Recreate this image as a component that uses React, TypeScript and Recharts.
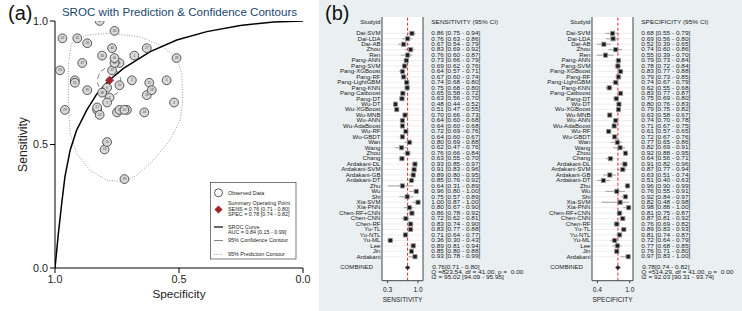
import React from 'react';
import { ComposedChart, Scatter, Line, XAxis, YAxis, ReferenceLine, ErrorBar, CartesianGrid } from 'recharts';

const FONT = '"Liberation Sans", Arial, Helvetica, sans-serif';

// ---------- data ----------
const studyNames = ['Dai-SVM','Dai-LDA','Dai-AB','Zhou','Ren','Pang-ANN','Pang-SVM','Pang-XGBoost','Pang-RF','Pang-LightGBM','Pang-KNN','Pang-Catboost','Pang-DT','Wu-DT','Wu-XGBoost','Wu-MNB','Wu-ANN','Wu-AdaBoost','Wu-RF','Wu-GBDT','Wan','Wang','Zhou','Chang','Ardakani-DL','Ardakani-SVM','Ardakani-GB','Ardakani-DT','Zhu','Wu','Shi','Xia-SVM','Xia-PNN','Chen-RF+CNN','Chen-CNN','Chen-RF','Yu-TL','Yu-NTL','Yu-ML','Lee','Jin','Ardakani'];

const sensEst = [0.86,0.76,0.67,0.83,0.76,0.73,0.69,0.64,0.67,0.74,0.75,0.65,0.63,0.48,0.51,0.70,0.64,0.64,0.72,0.64,0.80,0.62,0.76,0.63,0.93,0.91,0.89,0.85,0.64,0.96,0.75,1.00,0.80,0.86,0.72,0.83,0.83,0.71,0.36,0.89,0.85,0.93];
const sensLo = [0.75,0.63,0.54,0.69,0.60,0.66,0.62,0.57,0.60,0.68,0.68,0.58,0.56,0.44,0.47,0.66,0.60,0.60,0.69,0.60,0.69,0.47,0.66,0.55,0.85,0.83,0.80,0.76,0.31,0.80,0.57,0.87,0.67,0.78,0.62,0.74,0.77,0.64,0.30,0.81,0.80,0.78];
const sensHi = [0.94,0.86,0.79,0.92,0.87,0.79,0.76,0.71,0.74,0.80,0.80,0.72,0.70,0.52,0.55,0.73,0.68,0.68,0.76,0.67,0.88,0.76,0.84,0.70,0.97,0.96,0.95,0.92,0.89,1.00,0.89,1.00,0.90,0.92,0.81,0.90,0.88,0.77,0.43,0.94,0.88,0.99];

const specEst = [0.68,0.69,0.52,0.74,0.55,0.79,0.78,0.83,0.79,0.74,0.62,0.83,0.75,0.80,0.79,0.63,0.74,0.71,0.61,0.72,0.77,0.82,0.92,0.64,0.91,0.87,0.63,0.51,0.96,0.76,0.92,0.82,0.98,0.81,0.87,0.76,0.89,0.81,0.72,0.77,0.76,0.97];
const specLo = [0.55,0.56,0.39,0.60,0.39,0.73,0.72,0.77,0.73,0.67,0.55,0.77,0.69,0.76,0.75,0.58,0.70,0.67,0.57,0.67,0.65,0.69,0.88,0.56,0.82,0.77,0.51,0.40,0.90,0.55,0.84,0.48,0.88,0.75,0.81,0.69,0.83,0.74,0.64,0.68,0.71,0.83];
const specHi = [0.79,0.80,0.65,0.86,0.70,0.84,0.84,0.88,0.85,0.79,0.68,0.87,0.80,0.83,0.82,0.67,0.78,0.75,0.65,0.76,0.86,0.91,0.95,0.71,0.96,0.94,0.74,0.63,0.99,0.91,0.97,0.98,1.00,0.87,0.92,0.82,0.93,0.87,0.79,0.85,0.80,1.00];

const combinedSens = { est: 0.76, lo: 0.71, hi: 0.80, q: 'Q =823.54, df = 41.00, p =  0.00', i2: 'I2 = 95.02 [94.09 - 95.95]' };
const combinedSpec = { est: 0.78, lo: 0.74, hi: 0.82, q: 'Q =514.29, df = 41.00, p =  0.00', i2: 'I2 = 92.03 [90.31 - 93.74]' };

// SROC curve (specificity, sensitivity)
const srocSpec = [1.0, 0.9865, 0.973, 0.96, 0.939, 0.913, 0.872, 0.832, 0.785, 0.724, 0.616, 0.509, 0.388, 0.253, 0.118, 0.0];
const srocSens = [0.0, 0.139, 0.261, 0.369, 0.477, 0.558, 0.639, 0.704, 0.757, 0.808, 0.876, 0.923, 0.957, 0.982, 0.996, 1.0];

const confSpec = [0.828, 0.818, 0.798, 0.771, 0.748, 0.735, 0.735, 0.748, 0.771, 0.798, 0.818, 0.828, 0.828];
const confSens = [0.768, 0.795, 0.808, 0.808, 0.795, 0.768, 0.736, 0.709, 0.697, 0.703, 0.723, 0.747, 0.768];

const predSpec = [0.933, 0.872, 0.778, 0.657, 0.563, 0.509, 0.489, 0.485, 0.495, 0.536, 0.603, 0.670, 0.724, 0.791, 0.859, 0.913, 0.939, 0.946, 0.946, 0.939, 0.933];
const predSens = [0.909, 0.943, 0.950, 0.936, 0.896, 0.849, 0.788, 0.680, 0.599, 0.518, 0.437, 0.376, 0.349, 0.355, 0.396, 0.464, 0.545, 0.680, 0.815, 0.882, 0.909];

const summaryPoint = { spec: 0.78, sens: 0.76 };
const srocTicks = [0, 0.5, 1];

// ---------- helpers ----------
const SText = ({ x, y, anchor = 'start', fs, sx = 1, fill = '#1a1a1a', children }: any) => (
  <text transform={`translate(${x} ${y}) scale(${sx} 1)`} textAnchor={anchor} dominantBaseline="central"
    fontSize={fs} fill={fill} fontFamily={FONT} style={{ whiteSpace: 'pre' }}>{children}</text>
);

// ---------- SROC panel ----------
const obsData = studyNames.map((n, i) => ({ spec: specEst[i], sens: sensEst[i], id: i + 1 }));
const srocData = srocSpec.map((s, i) => ({ spec: s, sens: srocSens[i] }));
const confData = confSpec.map((s, i) => ({ spec: s, sens: confSens[i] }));
const predData = predSpec.map((s, i) => ({ spec: s, sens: predSens[i] }));

const ObsCircle = (p: any) => {
  const { cx, cy, payload } = p;
  if (cx == null || cy == null) return null;
  return (
    <g>
      <circle cx={cx} cy={cy} r={4.4} fill="#d9d9d9" stroke="#333" strokeWidth={0.8} />
      <text x={cx} y={cy} fontSize={3.3} textAnchor="middle" dominantBaseline="central" fill="#444" fontFamily={FONT}>{payload.id}</text>
    </g>
  );
};

const SummaryDiamond = (p: any) => {
  const { cx, cy } = p;
  if (cx == null || cy == null) return null;
  const r = 4.2;
  return <polygon points={`${cx},${cy - r} ${cx + r},${cy} ${cx},${cy + r} ${cx - r},${cy}`} fill="#a3232a" stroke="#7a1a1f" strokeWidth={0.5} />;
};

const SrocPanel = () => (
  <div style={{ position: 'absolute', left: 0, top: 0 }}>
    <ComposedChart width={318} height={311} margin={{ top: 21, right: 15, left: 5, bottom: 0 }}>
      <XAxis
        type="number" dataKey="spec" domain={[0, 1]} reversed ticks={srocTicks} interval={0} allowDataOverflow
        height={43} tickFormatter={(v: number) => v.toFixed(1)}
        tick={{ fontSize: 10.8, fill: '#222', fontFamily: FONT }} tickSize={5} tickMargin={2}
        axisLine={{ stroke: '#000' }} tickLine={{ stroke: '#000' }}
        label={{ content: (lp: any) => { const vb = lp.viewBox || {}; return <text x={vb.x + vb.width / 2} y={vb.y + 25.5} textAnchor="middle" dominantBaseline="central" fontSize={11.8} fill="#222" fontFamily={FONT}>Specificity</text>; } }}
      />
      <YAxis
        type="number" dataKey="sens" domain={[0, 1]} ticks={srocTicks} interval={0} allowDataOverflow
        width={50} tickFormatter={(v: number) => v.toFixed(1)}
        tick={{ fontSize: 10.8, fill: '#222', fontFamily: FONT }} tickSize={5} tickMargin={2}
        axisLine={{ stroke: '#000' }} tickLine={{ stroke: '#000' }}
        label={{ content: (lp: any) => { const vb = lp.viewBox || {}; const cx = 22.7; const cy = vb.y + vb.height / 2; return <text x={cx} y={cy} transform={`rotate(-90 ${cx} ${cy})`} textAnchor="middle" dominantBaseline="central" fontSize={12.2} fill="#222" fontFamily={FONT}>Sensitivity</text>; } }}
      />
      <Line data={predData} dataKey="sens" type="linear" dot={false} activeDot={false} stroke="#9a9a9a" strokeWidth={1} strokeDasharray="1 1.6" isAnimationActive={false} />
      <Line data={confData} dataKey="sens" type="linear" dot={false} activeDot={false} stroke="#777" strokeWidth={0.9} strokeDasharray="5 3" isAnimationActive={false} />
      <Scatter data={obsData} shape={ObsCircle} isAnimationActive={false} />
      <Line data={srocData} dataKey="sens" type="linear" dot={false} activeDot={false} stroke="#000" strokeWidth={1.5} isAnimationActive={false} />
      <Scatter data={[summaryPoint]} shape={SummaryDiamond} isAnimationActive={false} />
    </ComposedChart>
  </div>
);

const SrocLegend = () => {
  const fs = 4.9;
  const sx = 1.1;
  const tx = 18;
  const t = (y: number, s: string) => <SText x={tx} y={y} fs={fs} sx={sx} fill="#222">{s}</SText>;
  return (
    <svg width={87} height={78} style={{ position: 'absolute', left: 209.5, top: 181.5 }}>
      <rect x={0.5} y={0.5} width={85.5} height={76.5} fill="#fff" stroke="#444" strokeWidth={0.7} />
      <circle cx={8.5} cy={10.8} r={4} fill="#fff" stroke="#333" strokeWidth={0.8} />
      {t(10.8, 'Observed Data')}
      <polygon points="8.5,23.6 12.5,27.6 8.5,31.6 4.5,27.6" fill="#a3232a" />
      {t(21.5, 'Summary Operating Point')}
      {t(26.8, 'SENS = 0.76 [0.71 - 0.80]')}
      {t(32, 'SPEC = 0.78 [0.74 - 0.82]')}
      <line x1={4} x2={13} y1={45} y2={45} stroke="#000" strokeWidth={1.2} />
      {t(45, 'SROC Curve')}
      {t(49.8, 'AUC = 0.84 [0.15 - 0.99]')}
      <line x1={4} x2={13} y1={58.5} y2={58.5} stroke="#777" strokeWidth={0.9} />
      {t(58.5, '95% Confidence Contour')}
      <line x1={4} x2={13} y1={72.5} y2={72.5} stroke="#999" strokeWidth={0.9} strokeDasharray="1 1.3" />
      {t(72.5, '95% Prediction Contour')}
    </svg>
  );
};

// ---------- forest panels ----------
const LEFT_W = 60;
const BOX_W = 41;
const ROW_DOMAIN = [-3, 45.4];
const HEADER_ROW = -2;
const COMB_ROW = 43;
const ROW_FS = 5.0;
const ROW_SX = 1.3;
const NAME_FS = 5.0;
const NAME_SX = 1.22;

const Square = (p: any) => {
  const { cx, cy } = p;
  if (cx == null || cy == null) return null;
  const s = 4.2;
  return <rect x={cx - s / 2} y={cy - s / 2} width={s} height={s} fill="#1c1c1c" stroke="#9a9a9a" strokeWidth={0.8} />;
};

const CombDiamond = (p: any) => {
  const { cx, cy } = p;
  if (cx == null || cy == null) return null;
  return <polygon points={`${cx},${cy - 2.2} ${cx + 2.6},${cy} ${cx},${cy + 2.2} ${cx - 2.6},${cy}`} fill="#222" stroke="#555" strokeWidth={0.5} />;
};

type ForestProps = {
  left: number; rightW: number;
  est: number[]; lo: number[]; hi: number[];
  comb: { est: number; lo: number; hi: number; q: string; i2: string };
  domain: number[]; ticks: number[]; axisTitle: string; colTitle: string;
};

const Forest = ({ left, rightW, est, lo, hi, comb, domain, ticks, axisTitle, colTitle }: ForestProps) => {
  const rows = est.map((e, i) => ({ row: i, est: e, err: [e - lo[i], hi[i] - e] }));
  const combData = [{ row: COMB_ROW, est: comb.est }];
  const yTicks = [HEADER_ROW, ...rows.map(r => r.row), COMB_ROW];

  const NameTick = (p: any) => {
    const v = p.payload?.value;
    let label = '';
    let dx = -1.5;
    if (v === HEADER_ROW) label = 'Studyid';
    else if (v === COMB_ROW) { label = 'COMBINED'; dx = -9; }
    else label = studyNames[v] ?? '';
    return <SText x={p.x + dx} y={p.y} anchor="end" fs={NAME_FS} sx={NAME_SX}>{label}</SText>;
  };

  const CiTick = (p: any) => {
    const v = p.payload?.value;
    const x = p.x + 8.3;
    if (v === HEADER_ROW) return <SText x={x} y={p.y} fs={ROW_FS} sx={ROW_SX}>{colTitle}</SText>;
    if (v === COMB_ROW) {
      return (
        <g>
          <SText x={x + 1} y={p.y} fs={ROW_FS} sx={ROW_SX}>{`${comb.est.toFixed(2)}[${comb.lo.toFixed(2)} - ${comb.hi.toFixed(2)}]`}</SText>
          <SText x={x} y={p.y + 5} fs={ROW_FS} sx={ROW_SX}>{comb.q}</SText>
          <SText x={x} y={p.y + 10} fs={ROW_FS} sx={ROW_SX}>{comb.i2}</SText>
        </g>
      );
    }
    if (v == null || v < 0 || v >= est.length) return null;
    return <SText x={x} y={p.y} fs={ROW_FS} sx={ROW_SX}>{`${est[v].toFixed(2)} [${lo[v].toFixed(2)} - ${hi[v].toFixed(2)}]`}</SText>;
  };

  return (
    <div style={{ position: 'absolute', left, top: 0 }}>
      <ComposedChart width={LEFT_W + BOX_W + rightW} height={311} margin={{ top: 17, right: 0, bottom: 0, left: 0 }}>
        <CartesianGrid horizontal={false} vertical={false} fill="#fff" yAxisId="left" />
        <XAxis
          type="number" dataKey="est" domain={domain} ticks={ticks} interval={0} allowDataOverflow height={30.3}
          tickFormatter={(v: number) => v.toFixed(1)}
          tick={{ fontSize: 6.6, fill: '#1a1a1a', fontFamily: FONT }} tickSize={2.5} tickMargin={4}
          axisLine={{ stroke: '#444' }} tickLine={{ stroke: '#444' }}
          label={{ content: (lp: any) => { const vb = lp.viewBox || {}; return <text x={vb.x + vb.width / 2} y={vb.y + 18.8} textAnchor="middle" dominantBaseline="central" fontSize={6.5} fill="#1a1a1a" fontFamily={FONT}>{axisTitle}</text>; } }}
        />
        <YAxis
          yAxisId="left" type="number" dataKey="row" domain={ROW_DOMAIN} reversed allowDataOverflow
          ticks={yTicks} interval={0} width={LEFT_W} tick={NameTick} tickLine={false} tickSize={0} tickMargin={0}
          axisLine={{ stroke: '#444' }}
        />
        <YAxis
          yAxisId="right" orientation="right" type="number" dataKey="row" domain={ROW_DOMAIN} reversed allowDataOverflow
          ticks={yTicks} interval={0} width={rightW} tick={CiTick} tickLine={false} tickSize={0} tickMargin={0}
          axisLine={{ stroke: '#444' }}
        />
        {rows.map(r => (
          <ReferenceLine key={r.row} yAxisId="left" y={r.row} stroke="#e2e2e2" strokeWidth={0.6} />
        ))}
        <ReferenceLine yAxisId="left" x={comb.est} stroke="#e0262d" strokeWidth={1} strokeDasharray="3 2" />
        <Scatter yAxisId="left" data={rows} shape={Square} isAnimationActive={false}>
          <ErrorBar dataKey="err" direction="x" width={0} stroke="#8c8c8c" strokeWidth={0.8} isAnimationActive={false} />
        </Scatter>
        <Scatter yAxisId="left" data={combData} shape={CombDiamond} isAnimationActive={false} />
      </ComposedChart>
    </div>
  );
};

export default function App() {
  return (
    <div style={{ position: 'absolute', left: 0, top: 0, width: 742, height: 311, overflow: 'hidden', background: '#eaf0f2', fontFamily: FONT }}>
      <div style={{ position: 'absolute', left: 0, top: 0, width: 319, height: 311, background: '#fff' }} />
      <SrocPanel />
      <SrocLegend />
      <div style={{ position: 'absolute', left: 8, top: 2, fontSize: 20, color: '#111', fontFamily: FONT }}>(a)</div>
      <div style={{ position: 'absolute', left: 0, top: 5, width: 359, textAlign: 'center', fontSize: 11.6, color: '#1a476f', fontFamily: FONT }}>SROC with Prediction &amp; Confidence Contours</div>
      <div style={{ position: 'absolute', left: 325, top: 2, fontSize: 20, color: '#111', fontFamily: FONT }}>(b)</div>
      <Forest left={381.7 - LEFT_W} rightW={110} est={sensEst} lo={sensLo} hi={sensHi} comb={combinedSens}
        domain={[0.17, 1.115]} ticks={[0.3, 1.0]} axisTitle="SENSITIVITY" colTitle="SENSITIVITY (95% CI)" />
      <Forest left={592.3 - LEFT_W} rightW={105} est={specEst} lo={specLo} hi={specHi} comb={combinedSpec}
        domain={[0.3, 1.06]} ticks={[0.4, 1.0]} axisTitle="SPECIFICITY" colTitle="SPECIFICITY (95% CI)" />
    </div>
  );
}
